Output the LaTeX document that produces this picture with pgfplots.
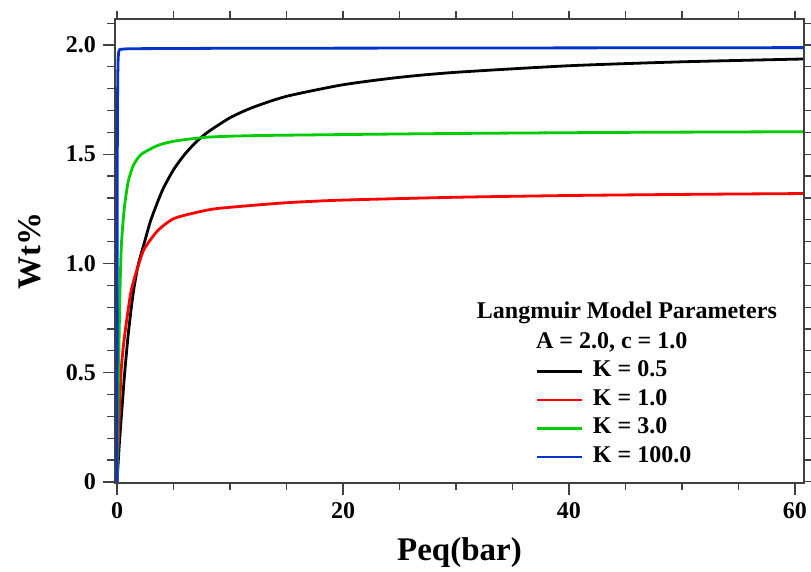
\documentclass[border=0pt]{standalone}
\usepackage{pgfplots}
\pgfplotsset{compat=1.18}
\usepackage{fontspec}
\setmainfont{Liberation Serif}

\definecolor{kblack}{RGB}{0,0,0}
\definecolor{kred}{RGB}{255,0,0}
\definecolor{kgreen}{RGB}{0,204,0}
\definecolor{kblue}{RGB}{0,51,204}
\definecolor{boxgray}{RGB}{64,64,64}

\pgfplotsset{
  frame/.style={
    scale only axis,
    width=344.5pt, height=232pt,
    xmin=-0.18, xmax=60.8,
    ymin=-0.005, ymax=2.119,
    axis line style={boxgray, line width=0.75pt},
    tick style={boxgray, line width=0.6pt},
    tick align=outside,
    major tick length=6pt,
    minor tick length=3.75pt,
  }
}

\begin{document}
\begin{tikzpicture}
\begin{axis}[
  frame,
  name=main,
  xtick pos=lower, ytick pos=left,
  xtick={0,20,40,60}, xticklabels={0,20,40,60},
  minor xtick={5,10,15,25,30,35,45,50,55},
  ytick={0,0.5,1.0,1.5,2.0}, yticklabels={0,0.5,1.0,1.5,2.0},
  minor ytick={0.1,0.2,0.3,0.4,0.6,0.7,0.8,0.9,1.1,1.2,1.3,1.4,1.6,1.7,1.8,1.9,2.1},
  tick label style={font=\bfseries\fontsize{12}{14}\selectfont},
  xlabel={Peq(bar)},
  ylabel={Wt\%},
  label style={font=\bfseries\fontsize{16.5}{19}\selectfont},
  xlabel style={at={(axis description cs:0.5,-0.149)}, anchor=center},
  ylabel style={at={(axis description cs:-0.123,0.5)}, anchor=center},
  legend style={draw=none, fill=none, at={(axis description cs:0.610,0.272)}, anchor=north west,
    font=\bfseries\fontsize{12}{14}\selectfont, row sep=0pt, inner sep=0pt,
    nodes={inner sep=0.75pt, text height=9pt, text depth=3.75pt}},
  legend cell align=left,
  legend image code/.code={\draw[#1] (0pt,0pt) -- (22.5pt,0pt); \path (26.5pt,0pt);},
  every axis plot/.append style={line width=1.4pt, line join=round},
]
\addplot[kblack, smooth, tension=0.4] coordinates {
  (0,0) (0.2,0.17) (0.4,0.31) (0.68,0.5) (1,0.68) (1.42,0.86) (1.86,0.99)
  (2.5,1.11) (3,1.2) (4,1.333) (5,1.429) (6,1.5) (7,1.556) (8,1.6) (10,1.667)
  (12,1.714) (15,1.765) (20,1.818) (25,1.852) (30,1.875) (40,1.905)
  (50,1.923) (60.8,1.936)
};
\addlegendentry{K = 0.5}
\addplot[kred, smooth, tension=0.4] coordinates {
  (0,0) (0.1,0.16) (0.2,0.3) (0.38,0.52) (0.6,0.64) (0.83,0.73) (1.27,0.88)
  (2.0,1.01) (2.45,1.07) (3.6,1.15) (5.1,1.207) (8.05,1.245) (10,1.257)
  (15,1.278) (20,1.29) (30,1.303) (40,1.311) (50,1.316) (60.8,1.32)
};
\addlegendentry{K = 1.0}
\addplot[kgreen, smooth, tension=0.4] coordinates {
  (0,0) (0.05,0.2) (0.1,0.4) (0.15,0.56) (0.25,0.85) (0.38,1.08) (0.55,1.2)
  (0.68,1.27) (0.97,1.37) (1.3,1.43) (1.56,1.46) (2.15,1.50) (3.6,1.54)
  (5.1,1.56) (8,1.578) (12,1.585) (20,1.59) (30,1.595) (45,1.6) (60.8,1.603)
};
\addlegendentry{K = 3.0}
\addplot[kblue] coordinates {
  (0,0) (0.01,0.9) (0.03,1.6) (0.06,1.85) (0.1,1.94) (0.15,1.97) (0.25,1.98)
  (1,1.983) (10,1.985) (60.8,1.988)
};
\addlegendentry{K = 100.0}
\node[font=\bfseries\fontsize{12}{14}\selectfont] at (axis description cs:0.743,0.366) {Langmuir Model Parameters};
\node[font=\bfseries\fontsize{12}{14}\selectfont] at (axis description cs:0.721,0.304) {A = 2.0, c = 1.0};
\end{axis}
\begin{axis}[
  frame,
  xtick pos=upper, ytick pos=right,
  xtick={0,5,...,60}, xticklabels={},
  ytick={0,0.1,...,2.11}, yticklabels={},
  major tick length=3.75pt,
]
\end{axis}
\pgfresetboundingbox
\path ([shift={(-57.5pt,-44.5pt)}]main.south west) rectangle ([shift={(3.5pt,9.5pt)}]main.north east);
\end{tikzpicture}
\end{document}
